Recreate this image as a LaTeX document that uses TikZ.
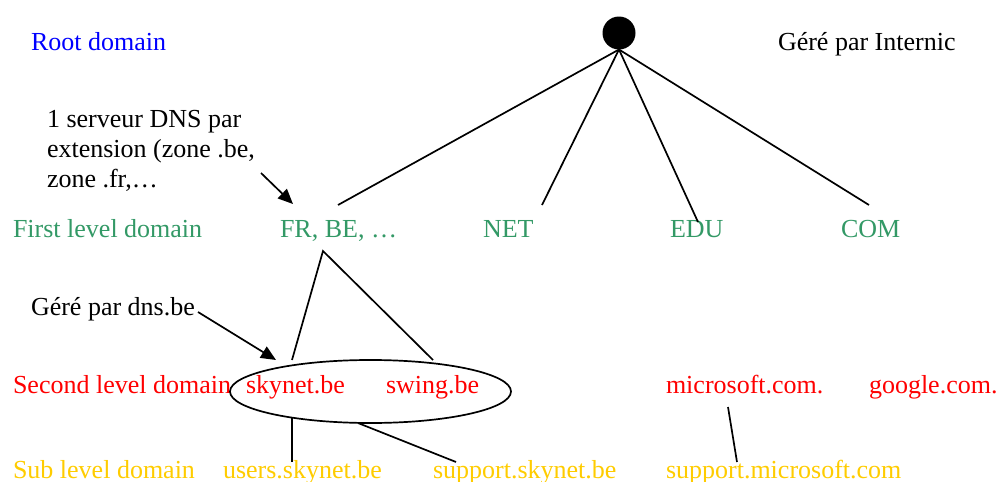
\documentclass[tikz,border=0pt]{standalone}
\usepackage{fontspec}
\setmainfont{Liberation Serif}
\usetikzlibrary{arrows.meta,shapes.geometric}
\definecolor{rootblue}{RGB}{0,0,255}
\definecolor{lvlgreen}{RGB}{51,153,102}
\definecolor{lvlred}{RGB}{255,0,0}
\definecolor{lvlyellow}{RGB}{255,204,0}
\begin{document}
\begin{tikzpicture}[x=1pt,y=-1pt,
  every node/.style={font=\fontsize{26}{30}\selectfont, inner sep=0pt, outer sep=0pt},
  lbl/.style={anchor=base west},
  edge/.style={line width=1.7pt},
  note/.style={line width=1.7pt, -{Triangle[length=15pt,width=13pt]}}]
\useasboundingbox (0,0) rectangle (997,482);
% root
\node[circle, fill=black, minimum size=33pt] (root) at (619,33) {};
\node[lbl, text=rootblue] (rootlbl) at (31,50) {Root domain};
\node[lbl] (internic) at (778,50) {Géré par Internic};
\node[anchor=north west, align=left] (zonenote) at (47,110.5) {1 serveur DNS par\\extension (zone .be,\\zone .fr,…};
% first level
\node[lbl, text=lvlgreen] (firstlbl) at (13,237) {First level domain};
\node[lbl, text=lvlgreen] (fr) at (280,237) {FR, BE, …};
\node[lbl, text=lvlgreen] (net) at (483,237) {NET};
\node[lbl, text=lvlgreen] (edu) at (670,237) {EDU};
\node[lbl, text=lvlgreen] (com) at (841,237) {COM};
% second level
\node[lbl] (dnsbe) at (31,315) {Géré par dns.be};
\node[lbl, text=lvlred] (secondlbl) at (13,393) {Second level domain};
\node[lbl, text=lvlred] (skynet) at (246,393) {skynet.be};
\node[lbl, text=lvlred] (swing) at (386,393) {swing.be};
\node[lbl, text=lvlred] (microsoft) at (666,393) {microsoft.com.};
\node[lbl, text=lvlred] (google) at (869,393) {google.com.};
\node[ellipse, draw, line width=1.7pt, minimum width=281pt, minimum height=63pt] (zone) at (370.5,391.5) {};
% sub level
\node[lbl, text=lvlyellow] (sublbl) at (13,478) {Sub level domain};
\node[lbl, text=lvlyellow] (users) at (223,478) {users.skynet.be};
\node[lbl, text=lvlyellow] (support) at (433,478) {support.skynet.be};
\node[lbl, text=lvlyellow] (supportms) at (666,478) {support.microsoft.com};
% connector ends
\coordinate (frTop) at (338,205);
\coordinate (netTop) at (542,205);
\coordinate (eduTop) at (698,222);
\coordinate (comTop) at (869,205);
\coordinate (frBot) at (323,251);
\coordinate (skyTop) at (292,360);
\coordinate (swingTop) at (433,360);
\coordinate (skyBot) at (292,418);
\coordinate (usersTop) at (292,462);
\coordinate (zoneBot) at (358,423);
\coordinate (supportTop) at (456,462);
\coordinate (msBot) at (728,407);
\coordinate (supportmsTop) at (737,462);
\coordinate (noteTail) at (261,173);
\coordinate (noteTip) at (293,204);
\coordinate (dnsTail) at (198,312);
\coordinate (dnsTip) at (276,360);
% edges
\draw[edge] (root.south) -- (frTop);
\draw[edge] (root.south) -- (netTop);
\draw[edge] (root.south) -- (eduTop);
\draw[edge] (root.south) -- (comTop);
\draw[edge] (skyTop) -- (frBot) -- (swingTop);
\draw[edge] (skyBot) -- (usersTop);
\draw[edge] (zoneBot) -- (supportTop);
\draw[edge] (msBot) -- (supportmsTop);
\draw[note] (noteTail) -- (noteTip);
\draw[note] (dnsTail) -- (dnsTip);
\end{tikzpicture}
\end{document}
